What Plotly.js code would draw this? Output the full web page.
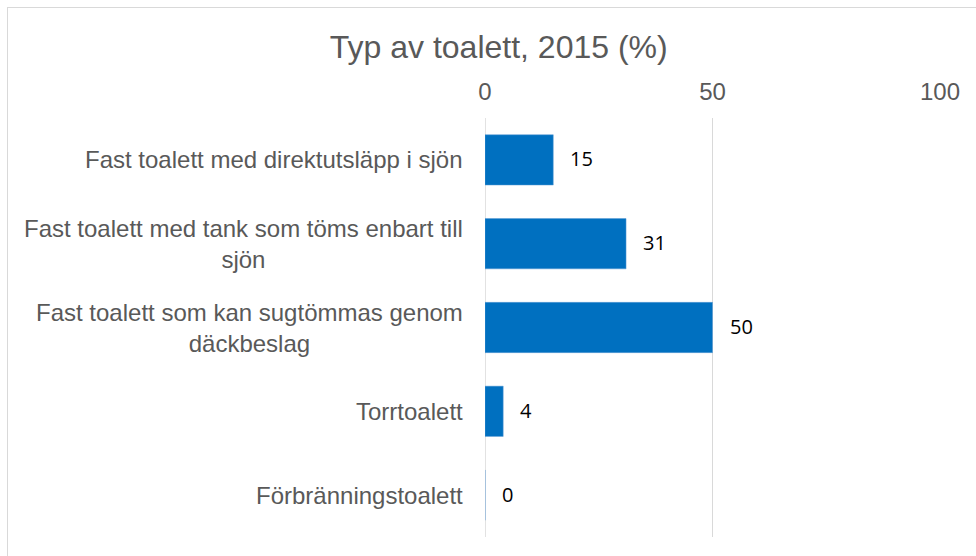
<!DOCTYPE html>
<html>
<head>
<meta charset="utf-8">
<script src="https://cdn.plot.ly/plotly-3.0.1.min.js"></script>
<style>
html,body{margin:0;padding:0;background:#fff;overflow:hidden;}
#wrap{position:relative;width:976px;height:556px;}
#chart{position:absolute;left:0;top:0;width:976px;height:556px;}
#frame{position:absolute;left:7px;top:7px;width:1000px;height:600px;border:1px solid #d9d9d9;pointer-events:none;}
</style>
</head>
<body>
<div id="wrap"><div id="chart"></div><div id="frame"></div></div>
<script>
const categories = [
  "Fast toalett med direktutsläpp i sjön",
  "Fast toalett med tank som töms enbart till<br>sjön",
  "Fast toalett som kan sugtömmas genom<br>däckbeslag",
  "Torrtoalett",
  "Förbränningstoalett"
];
const values = [15, 31, 50, 4, 0];
const tickValues = [0, 50, 100];
const tickLabels = ["0", "50", "100"];

const trace = {
  type: "bar",
  orientation: "h",
  x: values,
  y: categories,
  marker: {color: "#0070c0", line: {color: "#5b9bd5", width: 0.5}},
  hoverinfo: "none"
};

const valueLabels = values.map((v, i) => ({
  x: v, y: categories[i], xref: "x", yref: "y",
  text: String(v), showarrow: false, xanchor: "left", xshift: 15, yshift: 1,
  font: {family: "Open Sans", size: 20, color: "#000"}
}));

const categoryLabels = categories.map((c) => ({
  x: 0, y: c, xref: "paper", yref: "y",
  text: c, showarrow: false, xanchor: "right", yanchor: "middle", xshift: -20, align: "center",
  font: {family: "Arial", size: 24, color: "#595959"}
}));

const layout = {
  width: 976, height: 556,
  margin: {l: 485, r: 36, t: 118, b: 19, pad: 0},
  paper_bgcolor: "#fff", plot_bgcolor: "#fff",
  showlegend: false,
  bargap: 0.4,
  title: {text: "Typ av toalett, 2015 (%)", x: 0.511, xref: "container", xanchor: "center", y: 0.915, yref: "container", yanchor: "middle",
          font: {family: "Arial", size: 32, color: "#595959"}},
  xaxis: {
    side: "top", range: [0, 100], tickvals: tickValues, ticktext: tickLabels,
    showgrid: true, gridcolor: "#d9d9d9", gridwidth: 1.5,
    zeroline: false, showline: false, ticks: "",
    ticklabelstandoff: 12,
    tickfont: {family: "Arial", size: 24, color: "#595959"},
    fixedrange: true
  },
  yaxis: {
    autorange: "reversed", showgrid: false, zeroline: false, showline: false, ticks: "",
    showticklabels: false,
    fixedrange: true
  },
  shapes: [{type: "line", xref: "x", yref: "paper", x0: 0, x1: 0, y0: 0, y1: 1, line: {color: "#d9d9d9", width: 1.5}, layer: "below"}],
  annotations: categoryLabels.concat(valueLabels)
};

Plotly.newPlot("chart", [trace], layout, {displayModeBar: false, staticPlot: true});
</script>
</body>
</html>
